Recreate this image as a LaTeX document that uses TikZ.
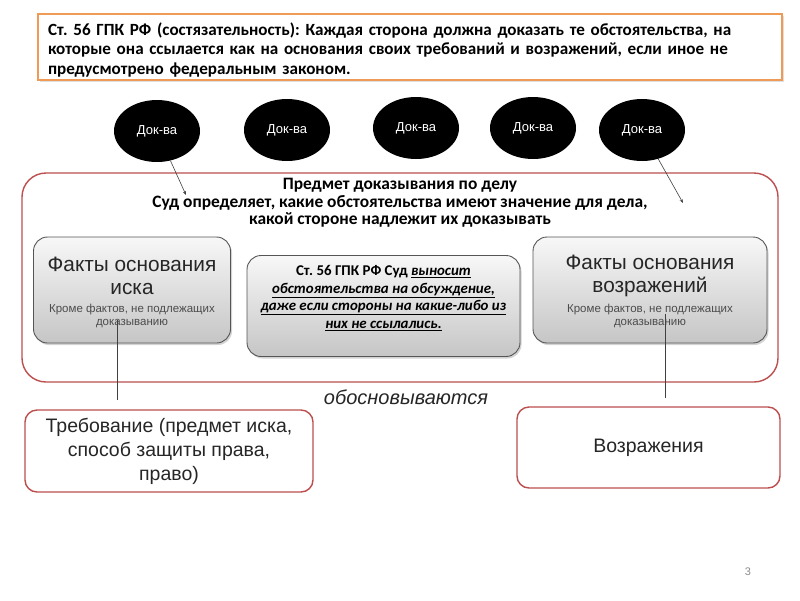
\documentclass[tikz,border=0pt]{standalone}
\usepackage{fontspec}
\setmainfont{Liberation Sans}
\newfontfamily\calfont{Carlito}
\usetikzlibrary{shadows,arrows.meta,shapes.geometric}
\definecolor{orng}{RGB}{240,155,85}
\definecolor{redb}{RGB}{188,78,78}
\definecolor{grayb}{RGB}{85,85,85}
\tikzset{
  topbox/.style={draw=orng, line width=1.4pt, fill=white, minimum width=744pt, minimum height=66pt,
    drop shadow={opacity=0.25, shadow xshift=1.5pt, shadow yshift=-1.5pt}},
  dok/.style={ellipse, fill=black, minimum width=86pt, minimum height=62pt, text=white,
    font=\fontsize{13}{15}\selectfont, inner sep=0pt},
  bigbox/.style={draw=redb, line width=1.4pt, rounded corners=24pt, minimum width=756pt, minimum height=209pt},
  fakt/.style={draw=grayb, line width=0.9pt, rounded corners=14pt, top color=gray!6, bottom color=gray!45,
    drop shadow={opacity=0.35, shadow xshift=1.5pt, shadow yshift=-2pt}},
  redbox/.style={draw=redb, line width=1.4pt, rounded corners=12pt, fill=white},
  conn/.style={draw=black!75, line width=0.6pt},
  arr/.style={conn, -{Stealth[length=4pt, width=3pt]}},
  big/.style={font=\fontsize{20.8}{23}\selectfont, text=black!85, align=center, inner sep=0pt},
  small/.style={font=\fontsize{11.5}{13.5}\selectfont, text=black!70, align=center, inner sep=0pt},
  bottxt/.style={font=\fontsize{19.5}{24}\selectfont, text=black!85, align=center, inner sep=0pt},
}
\begin{document}
\frenchspacing
\begin{tikzpicture}[x=1pt,y=-1pt]
\useasboundingbox (0,0) rectangle (800,600);
% top box
\node[topbox] (top) at (410,47) {};
\node[text width=724pt, align=left, inner sep=0pt,
  font=\calfont\bfseries\fontsize{17.1}{19.6}\selectfont] (topt) at (410,50)
  {Ст. 56 ГПК РФ (состязательность): Каждая сторона должна доказать те обстоятельства, на\\
   которые она ссылается как на основания своих требований и возражений, если иное не\\
   предусмотрено федеральным законом.};
% ellipses
\node[dok] (e1) at (157,131) {Док-ва};
\node[dok] (e2) at (287,130) {Док-ва};
\node[dok] (e3) at (416,128) {Док-ва};
\node[dok] (e4) at (533,128) {Док-ва};
\node[dok] (e5) at (642,130) {Док-ва};
% big box
\node[bigbox] (main) at (400,277.5) {};
\node[font=\calfont\bfseries\fontsize{17.4}{17.6}\selectfont, align=center, inner sep=0pt] (subj) at (400,203)
  {Предмет доказывания по делу\\Суд определяет, какие обстоятельства имеют значение для дела,\\какой стороне надлежит их доказывать};
\coordinate (a1) at (186,195);
\coordinate (a5) at (683,203);
\draw[arr] (e1) -- (a1);
\draw[arr] (e5) -- (a5);
% gray boxes
\node[fakt, minimum width=197pt, minimum height=106pt] (f1) at (132,290) {};
\node[big] (f1t) at (132,276) {Факты основания\\иска};
\node[small] (f1s) at (132,316) {Кроме фактов, не подлежащих\\доказыванию};
\node[fakt, minimum width=234pt, minimum height=106pt] (f2) at (650,290) {};
\node[big] (f2t) at (650,276) {Факты основания\\возражений};
\node[small] (f2s) at (650,316) {Кроме фактов, не подлежащих\\доказыванию};
\node[fakt, minimum width=273pt, minimum height=101pt] (mid) at (383.5,306) {};
\node[font=\calfont\bfseries\fontsize{14.9}{17.5}\selectfont, align=center, inner sep=0pt] (midt) at (383.5,298)
  {Ст. 56 ГПК РФ Суд \underline{\itshape выносит}\\
   \underline{\itshape обстоятельства на обсуждение,}\\
   \underline{\itshape даже если стороны на какие-либо из}\\
   \underline{\itshape них не ссылались.}};
% connectors
\coordinate (c1t) at (117,320);
\coordinate (c1b) at (117,400);
\coordinate (c2t) at (665,314);
\coordinate (c2b) at (665,398);
\draw[conn] (c1b) -- (c1t);
\draw[conn] (c2b) -- (c2t);
\node[font=\itshape\fontsize{20}{22}\selectfont, text=black!85, inner sep=0pt] (obos) at (406,397) {обосновываются};
% bottom boxes
\node[redbox, minimum width=288pt, minimum height=82pt] (req) at (169,451) {};
\node[bottxt] (reqt) at (169,451) {Требование (предмет иска,\\способ защиты права,\\право)};
\node[redbox, minimum width=263pt, minimum height=81pt] (voz) at (648.5,447.5) {};
\node[bottxt] (vozt) at (648.5,447.5) {Возражения};
% page number
\node[text=black!45, font=\fontsize{11}{13}\selectfont] (pn) at (748,572) {3};
\end{tikzpicture}
\end{document}
